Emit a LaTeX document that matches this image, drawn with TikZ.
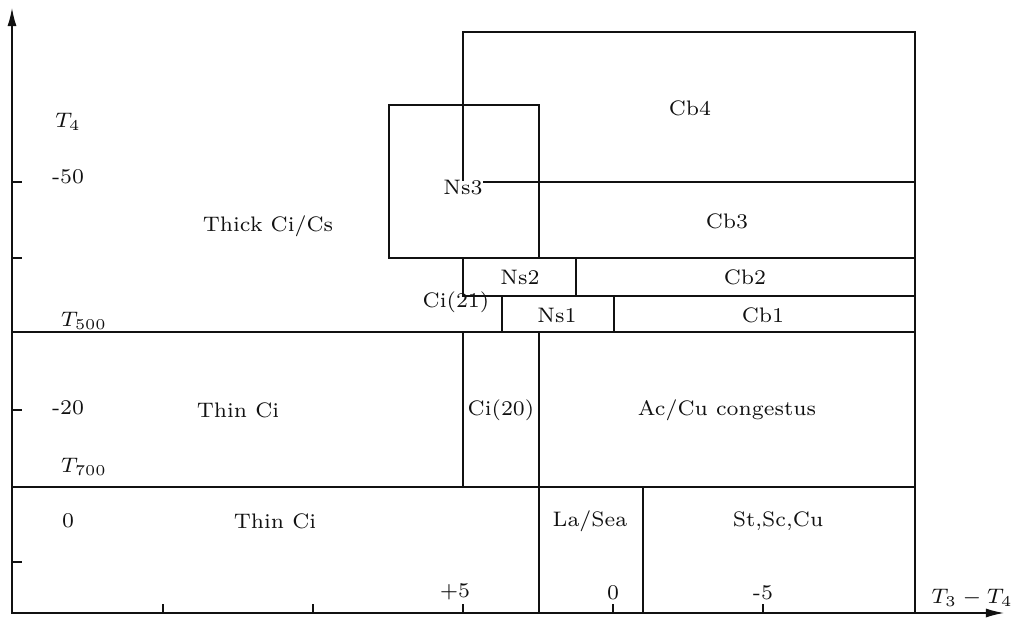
\documentclass[tikz,border=0pt]{standalone}
\usepackage{tikz}
\usetikzlibrary{arrows.meta}
\definecolor{clink}{HTML}{111111}
\tikzset{
  cbox/.style={draw=clink,line width=0.7pt},
  lbl/.style={font=\fontsize{7}{8}\selectfont,scale=1.5,transform shape,inner sep=1pt,text=clink},
  tck/.style={draw=clink,line width=0.7pt},
  axis/.style={-{Latex[length=3.2mm,width=1.6mm]},line width=0.7pt,draw=clink},
}
\begin{document}
\begin{tikzpicture}[x=0.5pt,y=-0.5pt]
  \useasboundingbox (0,0) rectangle (1031,625);
  % axes
  \coordinate (O) at (12,613);
  \coordinate (ytip) at (12,8);
  \coordinate (xtip) at (1004,613);
  \draw[axis] (O) -- (ytip);
  \draw[axis] (O) -- (xtip);
  \foreach \y in {182,258,410,562} \draw[tck] (12,\y) -- (22,\y);
  \foreach \x in {163,313,463,613,763} \draw[tck] (\x,613) -- (\x,604);
  % cloud type regions
  \draw[cbox] (463,32) rectangle (915,182);
  \draw[cbox] (389,105) rectangle (539,258);
  \draw[cbox] (539,182) rectangle (915,258);
  \draw[cbox] (463,258) rectangle (576,296);
  \draw[cbox] (576,258) rectangle (915,296);
  \draw[cbox] (502,296) rectangle (614,332);
  \draw[cbox] (614,296) rectangle (915,332);
  \draw[cbox] (12,332) rectangle (915,487);
  \draw[cbox] (463,332) -- (463,487);
  \draw[cbox] (539,332) -- (539,487);
  \draw[cbox] (12,487) rectangle (915,613);
  \draw[cbox] (539,487) -- (539,613);
  \draw[cbox] (643,487) -- (643,613);
  % labels
  \node[lbl] (t4) at (68,122) {$T_4$};
  \node[lbl] (m50) at (68,177) {-50};
  \node[lbl] (thick) at (268,226) {Thick Ci/Cs};
  \node[lbl,fill=white,inner sep=0pt] (ns3) at (463,188) {Ns3};
  \node[lbl] (cb4) at (690,108) {Cb4};
  \node[lbl] (cb3) at (727,221) {Cb3};
  \node[lbl] (ns2) at (520,277) {Ns2};
  \node[lbl] (cb2) at (745,277) {Cb2};
  \node[lbl] (ci21) at (456,302) {Ci(21)};
  \node[lbl] (ns1) at (557,315) {Ns1};
  \node[lbl] (cb1) at (763,315) {Cb1};
  \node[lbl] (t500) at (84,321) {$T_{500}$};
  \node[lbl] (m20) at (68,408) {-20};
  \node[lbl] (thin1) at (238,410) {Thin Ci};
  \node[lbl] (ci20) at (501,410) {Ci(20)};
  \node[lbl] (accu) at (727,410) {Ac/Cu congestus};
  \node[lbl] (t700) at (84,467) {$T_{700}$};
  \node[lbl] (z0) at (68,521) {0};
  \node[lbl] (thin2) at (275,521) {Thin Ci};
  \node[lbl] (lasea) at (590,521) {La/Sea};
  \node[lbl] (stsc) at (778,521) {St,Sc,Cu};
  \node[lbl] (p5) at (455,592) {+5};
  \node[lbl] (x0) at (613,593) {0};
  \node[lbl] (m5) at (763,593) {-5};
  \node[lbl] (t34) at (972,598) {$T_3-T_4$};
\end{tikzpicture}
\end{document}
